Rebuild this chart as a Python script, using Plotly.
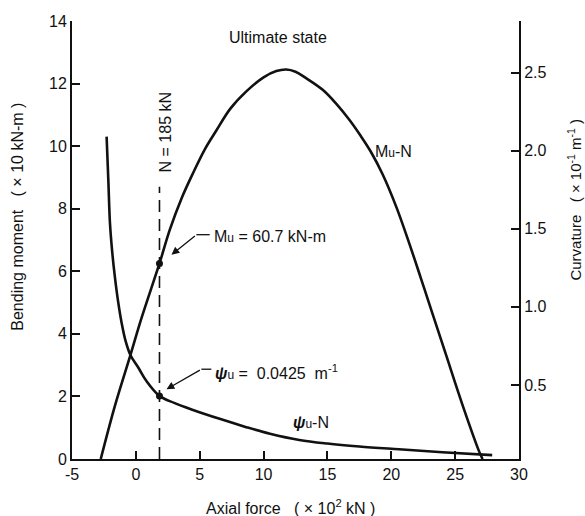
import plotly.graph_objects as go

# ---- data ----
mu_axial = [-2.75, -1.64, -0.42, 0.44, 1.85, 2.66, 3.6, 4.48, 5.4, 6.3, 7.4, 8.65, 10.0, 11.0, 11.77,
            12.5, 13.3, 14.63, 15.7, 16.7, 17.6, 18.4, 19.32, 20.4, 21.4, 22.3, 23.2, 24.27, 25.6, 26.9, 27.15]
mu_moment = [0.0, 1.7, 3.33, 4.5, 6.25, 7.33, 8.35, 9.14, 9.9, 10.5, 11.2, 11.75, 12.2, 12.4, 12.45,
             12.38, 12.18, 11.8, 11.35, 10.85, 10.33, 9.82, 9.1, 8.05, 6.9, 5.8, 4.68, 3.35, 1.7, 0.22, 0.0]

psi_axial = [-2.29, -2.15, -2.03, -1.85, -1.64, -1.4, -1.12, -0.8, -0.42, 0.2, 0.83, 1.85, 3.0, 4.48,
             6.56, 8.65, 10.5, 12.8, 15.0, 17.5, 20.6, 24.0, 27.9]
psi_curv = [2.09, 1.8, 1.54, 1.35, 1.19, 1.04, 0.90, 0.78, 0.69, 0.61, 0.525, 0.43, 0.385, 0.34,
            0.283, 0.23, 0.188, 0.148, 0.125, 0.106, 0.088, 0.069, 0.051]

n_line = 1.85          # N = 185 kN (x10^2 kN)
n_line_top = 8.7
mu_point = 6.25
psi_point = 0.43

x_ticks = [-5, 0, 5, 10, 15, 20, 25, 30]
x_ticktext = ["-5", "0", "5", "10", "15", "20", "25", "30"]
y_ticks = [0, 2, 4, 6, 8, 10, 12, 14]
y2_ticks = [0.5, 1.0, 1.5, 2.0, 2.5]
y2_ticktext = ["0.5", "1.0", "1.5", "2.0", "2.5"]

# leader lines: kink point -> text start ; arrow: kink -> head
mu_leader_x = [4.74, 5.78]
mu_leader_y = [7.17, 7.17]
mu_head = (2.79, 6.53)
psi_leader_x = [5.13, 5.91]
psi_leader_y = [2.87, 2.87]
psi_head = (2.40, 2.23)

FONT = "Liberation Sans, Arial, sans-serif"
BLACK = "#111111"

fig = go.Figure()

curve_line = dict(color=BLACK, width=2.6, shape="spline", smoothing=1.0)
fig.add_trace(go.Scatter(x=mu_axial, y=mu_moment, mode="lines", line=curve_line,
                         showlegend=False, hoverinfo="skip"))
fig.add_trace(go.Scatter(x=psi_axial, y=psi_curv, mode="lines", yaxis="y2", line=curve_line,
                         showlegend=False, hoverinfo="skip"))
# dashed N line
fig.add_trace(go.Scatter(x=[n_line, n_line], y=[0, n_line_top], mode="lines",
                         line=dict(color=BLACK, width=1.6, dash="12px,7px"),
                         showlegend=False, hoverinfo="skip"))
# points
fig.add_trace(go.Scatter(x=[n_line], y=[mu_point], mode="markers",
                         marker=dict(color=BLACK, size=7), showlegend=False, hoverinfo="skip"))
fig.add_trace(go.Scatter(x=[n_line], y=[psi_point], mode="markers", yaxis="y2",
                         marker=dict(color=BLACK, size=7), showlegend=False, hoverinfo="skip"))
# leader horizontal segments
fig.add_trace(go.Scatter(x=mu_leader_x, y=mu_leader_y, mode="lines",
                         line=dict(color=BLACK, width=1.3), showlegend=False, hoverinfo="skip"))
fig.add_trace(go.Scatter(x=psi_leader_x, y=psi_leader_y, mode="lines",
                         line=dict(color=BLACK, width=1.3), showlegend=False, hoverinfo="skip"))

ann = []
for head, lx, ly in [(mu_head, mu_leader_x, mu_leader_y), (psi_head, psi_leader_x, psi_leader_y)]:
    ann.append(dict(x=head[0], y=head[1], ax=lx[0], ay=ly[0],
                    xref="x", yref="y", axref="x", ayref="y", text="", showarrow=True,
                    arrowhead=2, arrowsize=1.2, arrowwidth=1.3, arrowcolor=BLACK, standoff=0,
                    font=dict(family="Liberation Sans", size=12, color=BLACK)))

def txt(x, y, s, xref="x", yref="y", angle=0, xanchor="center", size=16):
    return dict(x=x, y=y, xref=xref, yref=yref, text=s, showarrow=False, textangle=angle,
                xanchor=xanchor, yanchor="middle", font=dict(family=FONT, size=size, color=BLACK))

U = "<span style='font-size:12px'>u</span>"
PSI = "<b><i>ψ</i></b>"
ann.append(txt(5.94, 7.1, "M" + U + " = 60.7 kN-m", xanchor="left"))
ann.append(txt(6.02, 2.78, PSI + U + " = \u00a00.0425 \u00a0m<sup>-1</sup>", xanchor="left"))
ann.append(txt(20.2, 9.82, "M" + U + "-N"))
ann.append(txt(13.75, 1.18, PSI + U + "-N"))
ann.append(txt(2.34, 10.43, "N = 185 kN", angle=-90))
ann.append(txt(11.1, 13.47, "Ultimate state"))
ann.append(txt(0.488, -0.11, "Axial force\u00a0\u00a0\u00a0( × 10<sup>2</sup> kN )", xref="paper", yref="paper"))
ann.append(txt(-0.121, 0.553, "Bending moment\u00a0\u00a0\u00a0( × 10 kN-m )", xref="paper", yref="paper", angle=-90))
ann.append(txt(1.125, 0.592, "Curvature\u00a0\u00a0\u00a0( × 10<sup>-1</sup> m<sup>-1</sup> )", xref="paper", yref="paper",
               angle=-90, size=15))

axis_common = dict(showgrid=False, zeroline=False, showline=True, linecolor=BLACK, linewidth=2,
                   ticks="inside", ticklen=8, tickwidth=2, tickcolor=BLACK,
                   tickfont=dict(family=FONT, size=16, color=BLACK))

fig.update_layout(
    width=585, height=516,
    margin=dict(l=72, r=66, t=21, b=57),
    paper_bgcolor="white", plot_bgcolor="white",
    showlegend=False,
    xaxis=dict(range=[-5, 30], tickvals=x_ticks, ticktext=x_ticktext, **axis_common),
    yaxis=dict(range=[0, 14], tickvals=y_ticks, **axis_common),
    yaxis2=dict(range=[0.026, 2.83], tickvals=y2_ticks, ticktext=y2_ticktext,
                overlaying="y", side="right", **axis_common),
    annotations=ann,
)

fig.write_html("out.html")
